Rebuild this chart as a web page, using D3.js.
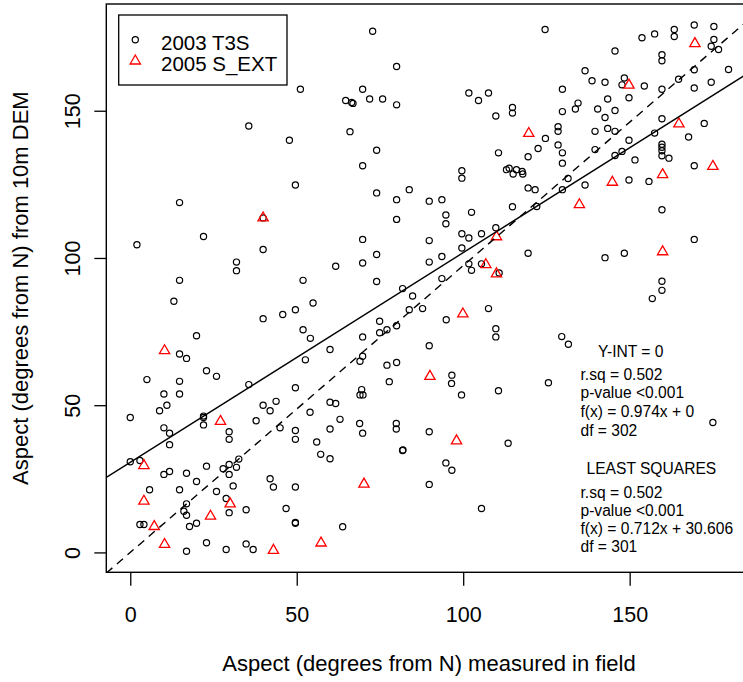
<!DOCTYPE html>
<html><head><meta charset="utf-8">
<script src="https://cdn.jsdelivr.net/npm/d3@7"></script>
<style>
html,body{margin:0;padding:0;background:#fff;}
svg{display:block;font-family:"Liberation Sans",Arial,sans-serif;}
</style></head>
<body>
<svg id="chart" width="743" height="682"></svg>
<script>
// ---- data (degrees) ----
const seriesNames = ["2003 T3S", "2005 S_EXT"];
const xTicks = [0, 50, 100, 150];
const yTicks = [0, 50, 100, 150];
const xLabel = "Aspect (degrees from N) measured in field";
const yLabel = "Aspect (degrees from N) from 10m DEM";

const t3s = [
[51.1,157.3],[35.6,144.8],[47.8,140.0],[49.6,124.8],
[72.8,177.0],[80.0,165.0],[69.8,157.3],[64.7,153.5],[66.5,152.8],[66.9,152.5],[71.9,154.0],[75.8,154.0],[80.0,152.0],[66.0,142.9],[74.0,136.6],[69.8,131.3],[74.0,122.1],[83.8,123.2],[101.7,156.0],[104.6,153.5],[107.6,156.0],[109.8,148.2],[114.8,151.1],[114.8,149.2],[110.6,135.7],[119.5,134.4],[113.0,130.0],[113.8,130.5],[115.0,128.5],[116.0,130.0],[117.7,129.4],[117.9,128.5],[99.6,129.6],[99.6,127.1],[119.5,123.8],
[124.6,177.6],[153.7,174.8],[157.5,176.1],[163.4,177.6],[163.4,175.2],[169.4,179.1],[175.3,178.6],[175.3,174.2],[174.5,171.9],[176.7,170.8],[145.6,170.3],[159.7,169.0],[159.7,167.0],[136.6,163.6],[138.7,160.2],[142.6,159.7],[148.4,161.1],[147.7,158.8],[154.4,158.4],[159.7,157.3],[164.7,160.7],[169.4,163.9],[179.7,164.0],[169.4,157.7],[174.5,159.7],[129.8,157.3],[143.4,154.0],[149.8,154.4],[134.5,152.6],[133.7,150.6],[140.4,150.6],[145.6,150.1],[129.8,149.7],[142.6,147.7],[159.7,147.3],[128.5,144.6],[128.5,143.0],[143.4,144.0],[139.6,143.0],[145.6,143.0],[124.7,140.6],[122.5,137.2],[157.5,142.4],[172.4,145.7],[167.7,141.1],[128.5,138.4],[129.8,135.7],[129.8,132.2],[139.6,136.8],[149.8,140.0],[145.6,134.8],[147.7,136.2],[159.7,138.6],[159.7,137.6],[159.7,136.4],[159.7,134.7],[161.8,133.9],[151.6,133.3],[131.5,127.0],[129.8,123.2],[136.6,124.8],[169.4,131.3],[149.8,126.5],[155.8,126.0],[121.6,123.2],
[14.8,118.8],[39.9,113.6],[22.0,107.3],[2.0,104.5],[39.9,102.9],[31.9,98.6],[31.9,95.7],[14.8,92.4],[51.9,92.4],[13.1,85.3],[54.9,84.7],[39.9,79.4],[45.8,80.8],[49.6,82.4],[51.9,75.6],[54.1,72.7],[52.6,65.4],[19.9,73.6],[14.8,67.4],[16.9,65.9],[22.9,61.7],[25.9,59.8],[5.0,58.7],[14.8,58.1],[35.6,57.0],[49.6,55.9],
[10.1,53.8],[14.8,53.8],[11.0,50.0],[8.8,48.1],[0.0,45.8],[22.0,45.8],[22.0,46.3],[22.0,43.3],[10.1,42.3],[11.8,40.5],[11.8,36.6],[29.7,41.0],[29.7,38.4],[39.9,50.0],[42.0,48.1],[43.8,51.3],[37.8,44.7],[45.0,42.3],[49.6,41.4],[49.6,38.4],[54.0,47.6],[56.0,37.5],[57.2,33.3],[0.0,30.8],[2.9,31.2],[10.1,26.5],[11.8,27.5],[16.9,26.9],[22.9,29.3],[19.9,24.1],[14.8,21.3],[5.8,21.3],[25.9,20.7],[27.9,28.4],[29.7,29.9],[29.7,26.5],[31.9,28.9],[32.6,31.7],[30.9,22.6],[28.8,18.3],[29.7,13.5],[34.8,14.5],[42.0,25.0],[43.0,22.2],[49.6,22.2],[46.8,14.9],[49.6,9.9],[49.6,10.2],[16.9,16.5],[16.1,14.0],[16.9,12.6],[17.8,8.8],[19.9,9.9],[2.9,9.5],[4.1,9.5],[16.9,0.4],[22.9,3.3],[28.8,1.0],[34.8,2.9],[36.9,1.0],
[60.0,31.8],[60.0,41.9],[60.0,51.0],[61.7,50.6],[63.0,45.2],[69.5,55.3],[69.0,53.5],[69.9,53.5],[68.9,43.8],[69.8,40.5],[77.8,58.0],[79.9,43.8],[79.9,41.9],[81.8,34.6],[81.9,34.8],[89.8,41.0],[96.5,57.4],[99.5,53.5],[110.6,54.9],[113.5,37.1],[94.8,30.4],[96.6,27.9],[89.8,23.1],[105.5,14.9],[63.8,8.7],
[80.0,119.8],[89.8,119.3],[93.6,119.8],[94.8,114.6],[94.8,111.6],[102.5,115.5],[114.8,117.4],[80.0,113.1],[69.8,106.3],[74.0,101.2],[61.7,97.2],[69.8,98.3],[74.0,92.0],[89.8,105.9],[89.8,98.6],[93.6,100.5],[93.6,93.0],[99.6,108.2],[101.7,106.8],[105.5,108.2],[109.8,110.3],[99.6,103.4],[101.7,98.0],[102.5,95.8],[105.5,98.0],[110.8,94.9],[119.5,101.6],[81.8,89.6],[84.8,87.1],[83.8,82.4],[87.8,82.8],[74.9,78.5],[77.1,75.6],[74.9,74.6],[80.0,77.0],[69.8,73.2],[60.0,68.9],[94.9,79.0],[107.6,82.8],[109.8,76.0],[109.8,73.2],[89.8,70.2],[69.8,66.6],[69.0,64.9],[77.1,63.6],[80.0,64.5],[96.6,60.2],
[122.1,117.5],[159.7,116.4],[169.4,106.3],[142.6,100.1],[148.4,101.6],[159.7,92.1],[159.7,89.0],[156.8,86.2],[129.6,73.3],[131.6,70.7],[125.6,57.6],[175.0,44.1]
];

const sExt = [
[119.7,142.3],[169.6,172.8],[149.8,158.7],[164.8,145.5],[175.0,131.1],[159.9,128.3],[144.8,125.7],
[39.9,113.6],[10.3,68.5],[27.1,44.5],[4.1,29.5],[30.0,16.5],[4.1,17.4],[24.1,12.3],[7.2,8.8],[10.3,2.7],
[43.0,0.7],[57.3,3.2],[98.0,37.9],[70.2,23.2],[90.0,59.8],[99.9,81.0],[110.0,107.2],[106.8,97.7],[110.0,94.6],
[134.9,118.1],[159.9,102.1]
];

// fitted lines
const fitThroughOrigin = {slope: 0.974, intercept: 0};
const fitLeastSquares = {slope: 0.712, intercept: 30.606};

const statsTitle1 = "Y-INT = 0";
const statsLines1 = ["r.sq = 0.502", "p-value <0.001", "f(x) = 0.974x + 0", "df = 302"];
const statsTitle2 = "LEAST SQUARES";
const statsLines2 = ["r.sq = 0.502", "p-value <0.001", "f(x) = 0.712x + 30.606", "df = 301"];

// ---- layout ----
const svg = d3.select("#chart");
const L = 106.3, R = 752.5, T = 4, B = 572.3;
const x = d3.scaleLinear().domain([-7.2, 186.9]).range([L, R]);
const y = d3.scaleLinear().domain([-6.75, 186.25]).range([B, T]);

svg.append("defs").append("clipPath").attr("id","plotclip")
  .append("rect").attr("x",L).attr("y",T).attr("width",R-L).attr("height",B-T);

// axes
const xAxis = d3.axisBottom(x).tickValues(xTicks).tickSize(13.5).tickPadding(0).tickFormat(d3.format("d"));
const gx = svg.append("g").attr("transform",`translate(0,${B})`).call(xAxis);
gx.select(".domain").remove();
gx.selectAll(".tick line").attr("stroke","#000").attr("stroke-width",1.3);
gx.selectAll(".tick text").attr("y",0).attr("dy",null).attr("transform","translate(0,50)")
  .attr("font-size","21.5px").attr("fill","#000").attr("font-family","Liberation Sans, Arial, sans-serif");

const yAxis = d3.axisLeft(y).tickValues(yTicks).tickSize(12).tickPadding(0).tickFormat(d3.format("d"));
const gy = svg.append("g").attr("transform",`translate(${L},0)`).call(yAxis);
gy.select(".domain").remove();
gy.selectAll(".tick line").attr("stroke","#000").attr("stroke-width",1.3);
gy.selectAll(".tick text").attr("x",0).attr("dy",null).attr("text-anchor","middle")
  .attr("transform","translate(-26,0) rotate(-90)")
  .attr("font-size","21.5px").attr("fill","#000").attr("font-family","Liberation Sans, Arial, sans-serif");

// plot box
svg.append("rect").attr("x",L).attr("y",T).attr("width",R-L).attr("height",B-T)
  .attr("fill","none").attr("stroke","#000").attr("stroke-width",1.4);

// points
const plot = svg.append("g").attr("clip-path","url(#plotclip)");
plot.selectAll("circle.t3s").data(t3s).join("circle").attr("class","t3s")
  .attr("cx",d=>x(d[0])).attr("cy",d=>y(d[1])).attr("r",3.1)
  .attr("fill","none").attr("stroke","#000").attr("stroke-width",1.2);

const tri = d3.symbol().type(d3.symbolTriangle).size(46);
plot.selectAll("path.sext").data(sExt).join("path").attr("class","sext")
  .attr("d",tri).attr("transform",d=>`translate(${x(d[0])},${y(d[1])})`)
  .attr("fill","none").attr("stroke","#ff0000").attr("stroke-width",1.3);

// regression lines
const xd = x.domain();
function ablineData(f){ return xd.map(v=>[v, f.intercept + f.slope*v]); }
const line = d3.line().x(d=>x(d[0])).y(d=>y(d[1]));
plot.append("path").datum(ablineData(fitLeastSquares)).attr("d",line)
  .attr("fill","none").attr("stroke","#000").attr("stroke-width",1.4);
plot.append("path").datum(ablineData(fitThroughOrigin)).attr("d",line)
  .attr("fill","none").attr("stroke","#000").attr("stroke-width",1.4).attr("stroke-dasharray","8,6");

// axis titles
svg.append("text").attr("x",(L+ (130.3+150*3.329+ 20))/2).attr("y",671)
  .attr("x", 429).attr("text-anchor","middle").attr("font-size","22px").attr("fill","#000").text(xLabel);
svg.append("text").attr("transform",`translate(28,${(T+B)/2}) rotate(-90)`)
  .attr("text-anchor","middle").attr("font-size","22px").attr("fill","#000").text(yLabel);

// legend
const lg = svg.append("g");
lg.append("rect").attr("x",118.7).attr("y",15).attr("width",168.3).attr("height",70)
  .attr("fill","#fff").attr("stroke","#000").attr("stroke-width",1.3);
lg.append("circle").attr("cx",135.3).attr("cy",39.7).attr("r",3.1)
  .attr("fill","none").attr("stroke","#000").attr("stroke-width",1.2);
lg.append("path").attr("d",tri).attr("transform","translate(135.3,61)")
  .attr("fill","none").attr("stroke","#ff0000").attr("stroke-width",1.3);
lg.append("text").attr("x",161).attr("y",50).attr("font-size","20.5px").attr("fill","#000").text(seriesNames[0]);
lg.append("text").attr("x",161).attr("y",71).attr("font-size","20.5px").attr("fill","#000").text(seriesNames[1]);

// stats annotations
const ann = svg.append("g").attr("font-size","15.6px").attr("fill","#000");
ann.append("text").attr("x",598).attr("y",357).text(statsTitle1);
statsLines1.forEach((t,i)=>ann.append("text").attr("x",580.5).attr("y",379.5+i*18.7).text(t));
ann.append("text").attr("x",586.5).attr("y",474).text(statsTitle2);
statsLines2.forEach((t,i)=>ann.append("text").attr("x",580.5).attr("y",497.5+i*18).text(t));
</script>
</body></html>
